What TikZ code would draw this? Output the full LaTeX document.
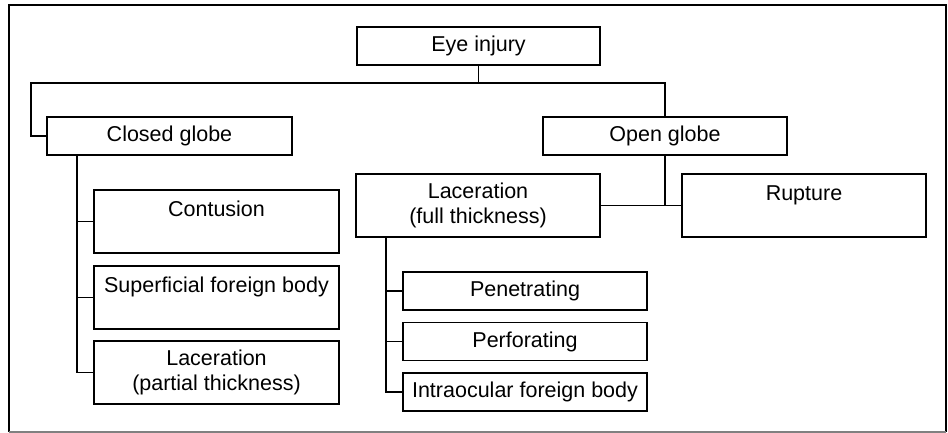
\documentclass[tikz,border=0pt]{standalone}
\usepackage{fontspec}
\setmainfont{Liberation Sans}
\begin{document}
\begin{tikzpicture}[x=1pt,y=-1pt,
  every node/.style={font=\fontsize{21.5}{25}\selectfont},
  box/.style={draw=black, line width=1.8pt, align=center, inner sep=0pt, minimum width=244pt, minimum height=38pt},
  tallbox/.style={box, minimum height=63pt},
  conn/.style={line width=1.8pt, line cap=rect}]
\useasboundingbox (0,0) rectangle (948,433);
% frame
\draw[line width=2pt, black] (9,432) -- (9,5) -- (946,5) -- (946,432);
\draw[line width=1.5pt, gray] (9,432) -- (946,432);
% nodes
\node[box, minimum width=243pt] (eye) at (478.5,46) {Eye injury};
\node[box, minimum width=245pt] (closed) at (169.5,136) {Closed globe};
\node[box] (open) at (665,136) {Open globe};
\node[tallbox, minimum width=245pt] (contusion) at (216.5,221.5) {Contusion\\\mbox{}};
\node[tallbox, minimum width=245pt] (superficial) at (216.5,297.5) {Superficial foreign body\\\mbox{}};
\node[tallbox, minimum width=245pt] (lacpartial) at (216.5,372.5) {Laceration\\(partial thickness)};
\node[tallbox] (lacfull) at (478,205.5) {Laceration\\(full thickness)};
\node[tallbox] (rupture) at (804,205.5) {Rupture\\\mbox{}};
\node[box] (penetrating) at (525,291) {Penetrating};
\node[box] (perforating) at (525,341.5) {Perforating};
\node[box] (intraocular) at (525,392) {Intraocular foreign body};
% junctions
\coordinate (jl) at (31,83);
\coordinate (cx) at (77,155);
\coordinate (fx) at (386,237);
% connectors
\draw[conn] (eye.south) -- (eye.south |- jl);
\draw[conn] (closed.west) -| (jl) -| (open.north);
\draw[conn] (cx) |- (lacpartial.west);
\draw[conn] (cx |- contusion.west) -- (contusion.west);
\draw[conn] (cx |- superficial.west) -- (superficial.west);
\draw[conn] (open.south) -- (open.south |- lacfull.east);
\draw[conn] (lacfull.east) -- (rupture.west);
\draw[conn] (fx) |- (intraocular.west);
\draw[conn] (fx |- penetrating.west) -- (penetrating.west);
\draw[conn] (fx |- perforating.west) -- (perforating.west);
\end{tikzpicture}
\end{document}
